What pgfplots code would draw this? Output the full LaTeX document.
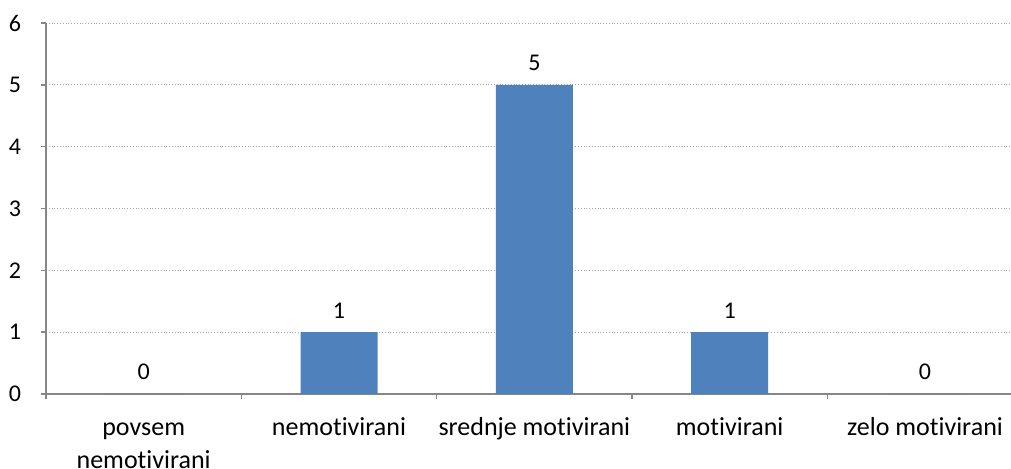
\documentclass[border=0pt]{standalone}
\usepackage{pgfplots}
\pgfplotsset{compat=1.18}
\usepackage{fontspec}
\setmainfont{Carlito}[Ligatures={NoCommon}]
\definecolor{barblue}{HTML}{4F81BD}
\definecolor{axisgray}{HTML}{868686}
\definecolor{gridgray}{HTML}{A6A6A6}
\begin{document}
\begin{tikzpicture}
\useasboundingbox (0,0) rectangle (505.5pt,234pt);
\begin{axis}[
  at={(23pt,37pt)}, anchor=south west,
  scale only axis, width=482.5pt, height=185.5pt,
  xmin=-0.5, xmax=4.44, ymin=0, ymax=6,
  axis x line*=bottom, axis y line*=left,
  axis line style={draw=axisgray, line width=0.75pt},
  ytick={0,...,6},
  ymajorgrids,
  grid style={densely dotted, draw=gridgray, line width=0.5pt},
  tick align=outside,
  major tick length=2.5pt, minor tick length=2.5pt,
  tick style={draw=axisgray, line width=0.75pt},
  xtick={0,...,4},
  xticklabels={{\strut povsem\\nemotivirani},{\strut nemotivirani},{\strut srednje motivirani},{\strut motivirani},{\strut zelo motivirani}},
  minor xtick={-0.5,0.5,1.5,2.5,3.5},
  every major x tick/.append style={draw=none},
  xticklabel style={align=center, anchor=north, yshift=-3pt, font=\fontsize{13}{16.5}\selectfont},
  yticklabel style={xshift=-6.5pt, font=\fontsize{12}{12}\selectfont},
  /pgf/number format/assume math mode=true,
  ybar, bar width=38.5pt,
  nodes near coords,
  nodes near coords style={font=\fontsize{12}{12}\selectfont, anchor=south, yshift=3.5pt},
]
\addplot[fill=barblue, draw=none] coordinates {(0,0) (1,1) (2,5) (3,1) (4,0)};
\end{axis}
\end{tikzpicture}
\end{document}
